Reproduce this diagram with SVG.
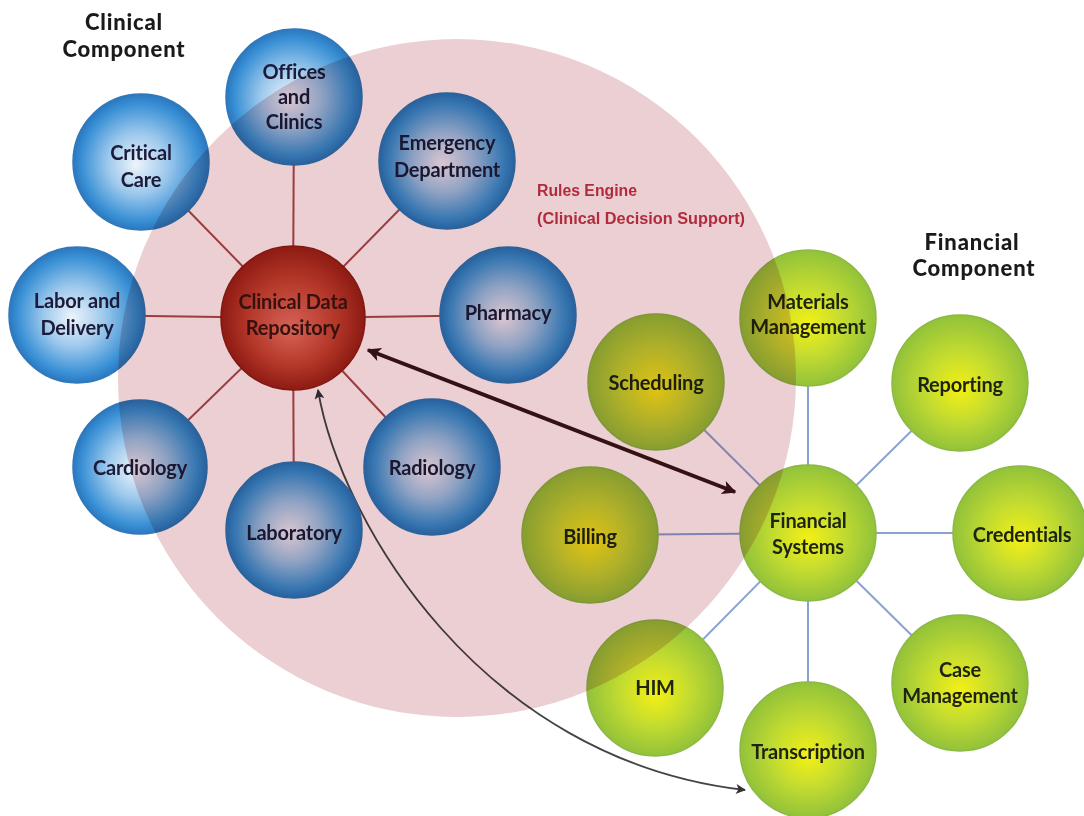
<svg xmlns="http://www.w3.org/2000/svg" width="1084" height="816" viewBox="0 0 1084 816">
<defs>
<radialGradient id="gBlue" cx="50%" cy="50%" r="50%" fx="46%" fy="52%">
<stop offset="0" stop-color="#eef4fb"/>
<stop offset="0.45" stop-color="#9cc8ec"/>
<stop offset="0.85" stop-color="#3c92d6"/>
<stop offset="1" stop-color="#2a78c0"/>
</radialGradient>
<radialGradient id="gRed" cx="50%" cy="50%" r="50%" fx="48%" fy="58%">
<stop offset="0" stop-color="#e87a68"/>
<stop offset="0.6" stop-color="#c44432"/>
<stop offset="1" stop-color="#9a2016"/>
</radialGradient>
<radialGradient id="gGreen" cx="50%" cy="50%" r="50%" fx="50%" fy="55%">
<stop offset="0" stop-color="#f4f014"/>
<stop offset="0.5" stop-color="#c4dc30"/>
<stop offset="1" stop-color="#92c23a"/>
</radialGradient>
<marker id="ahThick" viewBox="0 0 10 10" refX="9" refY="5" markerWidth="20" markerHeight="14" markerUnits="userSpaceOnUse" orient="auto-start-reverse">
<path d="M0,0 L10,5 L0,10 L2.5,5 z" fill="#3a1418"/>
</marker>
<marker id="ahThin" viewBox="0 0 10 10" refX="9" refY="5" markerWidth="12" markerHeight="10" markerUnits="userSpaceOnUse" orient="auto-start-reverse">
<path d="M0,0 L10,5 L0,10 L2.5,5 z" fill="#333"/>
</marker>
</defs>
<style>
.blue{fill:url(#gBlue);stroke:#3078b8;stroke-width:1.5}
.red{fill:url(#gRed);stroke:#8a1c14;stroke-width:1.5}
.green{fill:url(#gGreen);stroke:#8cb844;stroke-width:1.5}
.lbl{font-family:Lato,"Liberation Sans",Arial,sans-serif;font-weight:700;font-size:20px;text-anchor:middle;fill:#1c1c3a;letter-spacing:-0.2px}
.glbl{fill:#1e2410}
.rlbl{fill:#3a1410}
.hdr{font-family:Lato,"DejaVu Sans",sans-serif;font-weight:900;font-size:22px;text-anchor:middle;fill:#1a1a1a;letter-spacing:0.8px}
.cspoke{stroke:#a84a4c;stroke-width:2;fill:none}
.fspoke{stroke:#8aa2d2;stroke-width:2;fill:none}
</style>
<rect width="1084" height="816" fill="#ffffff"/>

<g id="connectors">
<line class="cspoke" x1="293" y1="318" x2="294" y2="97"/>
<line class="cspoke" x1="293" y1="318" x2="141" y2="162"/>
<line class="cspoke" x1="293" y1="318" x2="447" y2="161"/>
<line class="cspoke" x1="293" y1="318" x2="77" y2="315"/>
<line class="cspoke" x1="293" y1="318" x2="508" y2="315"/>
<line class="cspoke" x1="293" y1="318" x2="140" y2="467"/>
<line class="cspoke" x1="293" y1="318" x2="432" y2="467"/>
<line class="cspoke" x1="293" y1="318" x2="294" y2="530"/>
<line class="fspoke" x1="808" y1="533" x2="808" y2="318"/>
<line class="fspoke" x1="808" y1="533" x2="656" y2="382"/>
<line class="fspoke" x1="808" y1="533" x2="960" y2="383"/>
<line class="fspoke" x1="808" y1="533" x2="590" y2="535"/>
<line class="fspoke" x1="808" y1="533" x2="1020" y2="533"/>
<line class="fspoke" x1="808" y1="533" x2="655" y2="688"/>
<line class="fspoke" x1="808" y1="533" x2="960" y2="683"/>
<line class="fspoke" x1="808" y1="533" x2="808" y2="750"/>
<line x1="368" y1="350" x2="735" y2="492" stroke="#3a1418" stroke-width="4" marker-start="url(#ahThick)" marker-end="url(#ahThick)"/>
<path d="M318,390 C340,520 480,760 745,790" fill="none" stroke="#444" stroke-width="1.8" marker-start="url(#ahThin)" marker-end="url(#ahThin)"/>
</g>

<g id="offices-clinics"><circle class="blue" cx="294" cy="97" r="68"/><text class="lbl" x="294" y="79">Offices</text><text class="lbl" x="294" y="104">and</text><text class="lbl" x="294" y="129">Clinics</text></g>
<g id="critical-care"><circle class="blue" cx="141" cy="162" r="68"/><text class="lbl" x="141" y="160">Critical</text><text class="lbl" x="141" y="187">Care</text></g>
<g id="emergency-department"><circle class="blue" cx="447" cy="161" r="68"/><text class="lbl" x="447" y="150">Emergency</text><text class="lbl" x="447" y="177">Department</text></g>
<g id="labor-delivery"><circle class="blue" cx="77" cy="315" r="68"/><text class="lbl" x="77" y="308">Labor and</text><text class="lbl" x="77" y="335">Delivery</text></g>
<g id="clinical-data-repository"><circle class="red" cx="293" cy="318" r="72"/><text class="lbl rlbl" x="293" y="309">Clinical Data</text><text class="lbl rlbl" x="293" y="335">Repository</text></g>
<g id="pharmacy"><circle class="blue" cx="508" cy="315" r="68"/><text class="lbl" x="508" y="320">Pharmacy</text></g>
<g id="cardiology"><circle class="blue" cx="140" cy="467" r="67"/><text class="lbl" x="140" y="475">Cardiology</text></g>
<g id="radiology"><circle class="blue" cx="432" cy="467" r="68"/><text class="lbl" x="432" y="475">Radiology</text></g>
<g id="laboratory"><circle class="blue" cx="294" cy="530" r="68"/><text class="lbl" x="294" y="540">Laboratory</text></g>

<g id="materials-management"><circle class="green" cx="808" cy="318" r="68"/><text class="lbl glbl" x="808" y="309">Materials</text><text class="lbl glbl" x="808" y="334">Management</text></g>
<g id="scheduling"><circle class="green" cx="656" cy="382" r="68"/><text class="lbl glbl" x="656" y="390">Scheduling</text></g>
<g id="reporting"><circle class="green" cx="960" cy="383" r="68"/><text class="lbl glbl" x="960" y="392">Reporting</text></g>
<g id="billing"><circle class="green" cx="590" cy="535" r="68"/><text class="lbl glbl" x="590" y="544">Billing</text></g>
<g id="financial-systems"><circle class="green" cx="808" cy="533" r="68"/><text class="lbl glbl" x="808" y="528">Financial</text><text class="lbl glbl" x="808" y="554">Systems</text></g>
<g id="credentials"><circle class="green" cx="1020" cy="533" r="67"/><text class="lbl glbl" x="1022" y="542">Credentials</text></g>
<g id="him"><circle class="green" cx="655" cy="688" r="68"/><text class="lbl glbl" x="655" y="695">HIM</text></g>
<g id="case-management"><circle class="green" cx="960" cy="683" r="68"/><text class="lbl glbl" x="960" y="677">Case</text><text class="lbl glbl" x="960" y="703">Management</text></g>
<g id="transcription"><circle class="green" cx="808" cy="750" r="68"/><text class="lbl glbl" x="808" y="759">Transcription</text></g>

<g id="rules-engine">
<circle cx="457" cy="378" r="339" fill="#ebcfd3" style="mix-blend-mode:multiply"/>
<text x="537" y="196" font-family="'Liberation Sans',Arial,sans-serif" font-weight="bold" font-size="16" fill="#b02c3c" textLength="100" lengthAdjust="spacingAndGlyphs">Rules Engine</text>
<text x="537" y="224" font-family="'Liberation Sans',Arial,sans-serif" font-weight="bold" font-size="16" fill="#b02c3c" textLength="208" lengthAdjust="spacingAndGlyphs">(Clinical Decision Support)</text>
</g>

<g id="headers">
<text class="hdr" x="124" y="30">Clinical</text>
<text class="hdr" x="124" y="57">Component</text>
<text class="hdr" x="972" y="250">Financial</text>
<text class="hdr" x="974" y="276">Component</text>
</g>
</svg>
